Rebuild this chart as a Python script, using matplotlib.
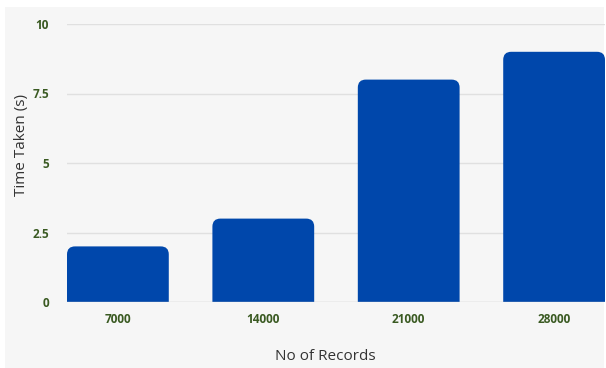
import numpy as np
import matplotlib.pyplot as plt
from matplotlib.path import Path
from matplotlib.patches import PathPatch, Rectangle

plt.rcParams['font.family'] = ['Open Sans', 'DejaVu Sans']

records = ['7000', '14000', '21000', '28000']
time_taken = [2, 3, 8, 9]
y_ticks = [0, 2.5, 5, 7.5, 10]
y_tick_labels = ['0', '2.5', '5', '7.5', '10']

bar_color = '#0047ab'
tick_color = '#3a5a22'
grid_color = '#e0e0e0'
bg_color = '#f6f6f6'

W, H = 606, 368
fig = plt.figure(figsize=(W / 100, H / 100), dpi=100, facecolor='white')
# light panel behind the chart
fig.patches.append(Rectangle((5 / W, 0), 1 - 7 / W, 1 - 7 / H, transform=fig.transFigure,
                             facecolor=bg_color, edgecolor='none', zorder=-1))

ax = fig.add_axes([67 / W, 66 / H, 538 / W, 278 / H])
ax.set_facecolor('none')

bar_w = 0.7
x = np.arange(len(records))
ax.set_xlim(-bar_w / 2, len(records) - 1 + bar_w / 2)
ax.set_ylim(0, 10)

# corner radius given in pixels, converted to data units on each axis
r_px = 8
px_per_x = 538 / (ax.get_xlim()[1] - ax.get_xlim()[0])
px_per_y = 278 / (ax.get_ylim()[1] - ax.get_ylim()[0])
rx, ry = r_px / px_per_x, r_px / px_per_y

def rounded_bar(x0, w, h):
    verts = [
        (x0, 0), (x0, h - ry),
        (x0, h), (x0 + rx, h),
        (x0 + w - rx, h),
        (x0 + w, h), (x0 + w, h - ry),
        (x0 + w, 0), (x0, 0),
    ]
    codes = [Path.MOVETO, Path.LINETO,
             Path.CURVE3, Path.CURVE3,
             Path.LINETO,
             Path.CURVE3, Path.CURVE3,
             Path.LINETO, Path.CLOSEPOLY]
    return Path(verts, codes)

for xi, v in zip(x, time_taken):
    ax.add_patch(PathPatch(rounded_bar(xi - bar_w / 2, bar_w, v),
                           facecolor=bar_color, edgecolor='none', zorder=3))

for t in y_ticks[1:]:
    ax.axhline(t, color=grid_color, lw=1, zorder=1)
ax.axhline(0, color='#c8c8c8', lw=1, zorder=4)

for s in ax.spines.values():
    s.set_visible(False)

ax.set_yticks(y_ticks)
ax.set_yticklabels(y_tick_labels)
ax.set_xticks(x)
ax.set_xticklabels(records)
ax.tick_params(axis='y', length=0, pad=13, labelsize=8.5, labelcolor=tick_color)
ax.tick_params(axis='x', length=0, pad=8, labelsize=8.5, labelcolor=tick_color)
for lbl in ax.get_xticklabels() + ax.get_yticklabels():
    lbl.set_fontweight('bold')

fig.text(22 / W, 1 - 145 / H, 'Time Taken (s)', rotation=90, ha='center', va='center',
         fontsize=11, color='#333333')
fig.text(325 / W, 1 - 356 / H, 'No of Records', ha='center', va='center',
         fontsize=11, color='#333333')

fig.savefig('out.png', dpi=100, facecolor=fig.get_facecolor())
